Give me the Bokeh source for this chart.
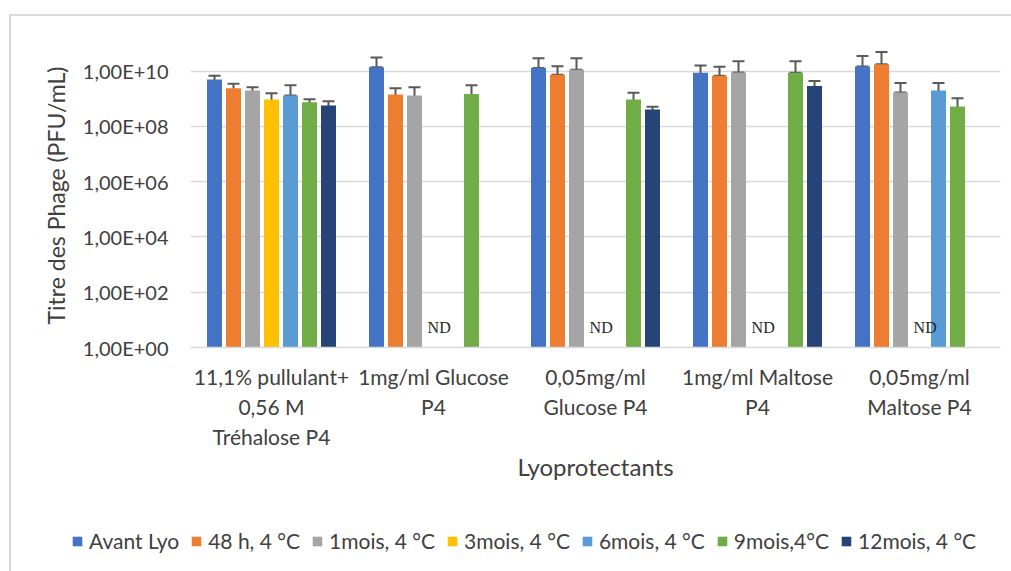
from bokeh.plotting import figure
from bokeh.models import (ColumnDataSource, FactorRange, Whisker, TeeHead, Legend,
                          LegendItem, CustomJSTickFormatter, FixedTicker)
from bokeh.transform import dodge
from bokeh.core.properties import value
from bokeh.embed import file_html
from bokeh.resources import INLINE

# ---------------- data ----------------
groups = ["11,1% pullulant+\n0,56 M\nTréhalose P4", "1mg/ml Glucose\nP4",
          "0,05mg/ml\nGlucose P4", "1mg/ml Maltose\nP4", "0,05mg/ml\nMaltose P4"]
series_names = ["Avant Lyo", "48 h, 4 °C", "1mois, 4 °C", "3mois, 4 °C",
                "6mois, 4 °C", "9mois,4°C", "12mois, 4 °C"]
colors = ["#4472C4", "#ED7D31", "#A5A5A5", "#FFC000", "#5B9BD5", "#70AD47", "#264478"]

avant_vals = [5.0e9, 1.39e10, 1.29e10, 8.7e9, 1.48e10]
avant_low = [3.2e9, 1.39e10, 1.29e10, 2.5e9, 1.48e10]
avant_high = [6.8e9, 3.1e10, 2.95e10, 1.6e10, 3.5e10]

h48_vals = [2.4e9, 1.44e9, 7.4e9, 6.8e9, 1.78e10]
h48_low = [1.35e9, 4.8e8, 7.4e9, 6.8e9, 1.78e10]
h48_high = [3.5e9, 2.4e9, 1.5e10, 1.44e10, 4.9e10]

m1_vals = [2.0e9, 1.32e9, 1.12e10, 8.9e9, 1.7e9]
m1_low = [1.5e9, 4.7e7, 1.12e10, 8.9e9, 1.7e9]
m1_high = [2.63e9, 2.6e9, 2.95e10, 2.3e10, 3.7e9]

m3_vals = [9.4e8, None, None, None, None]
m3_low = [2.1e8, None, None, None, None]
m3_high = [1.6e9, None, None, None, None]

m6_vals = [1.32e9, None, None, None, 2.0e9]
m6_low = [1.32e9, None, None, None, 4.8e8]
m6_high = [3.1e9, None, None, None, 3.7e9]

m9_vals = [7.5e8, 1.5e9, 9.4e8, 8.7e9, 5.2e8]
m9_low = [5.9e8, 1.6e7, 2.9e8, 8.7e9, 3.9e7]
m9_high = [9.7e8, 3.1e9, 1.65e9, 2.3e10, 1.05e9]

m12_vals = [5.7e8, None, 4.1e8, 2.9e9, None]
m12_low = [3.7e8, None, 3.5e8, 1.55e9, None]
m12_high = [8.1e8, None, 5.1e8, 4.4e9, None]

nd_groups = [groups[1], groups[2], groups[3], groups[4]]
nd_text = ["ND", "ND", "ND", "ND"]

y_ticks = [1e0, 1e2, 1e4, 1e6, 1e8, 1e10]

all_series = [
    (avant_vals, avant_low, avant_high),
    (h48_vals, h48_low, h48_high),
    (m1_vals, m1_low, m1_high),
    (m3_vals, m3_low, m3_high),
    (m6_vals, m6_low, m6_high),
    (m9_vals, m9_low, m9_high),
    (m12_vals, m12_low, m12_high),
]

# ---------------- main figure ----------------
TXT = "#404040"
FONT = "Lato"
BORDER = "#d9d9d9"

p = figure(x_range=FactorRange(factors=groups), y_axis_type="log", y_range=(1, 1e11),
           width=1011, height=515, output_backend="svg", toolbar_location=None,
           min_border_left=190, min_border_right=11, min_border_top=43, min_border_bottom=168)
p.border_fill_alpha = 0
p.background_fill_color = "white"
p.outline_line_color = None
p.styles = {
    "background": f"linear-gradient({BORDER},{BORDER}) 9px 14px / 2px 600px no-repeat, "
                  f"linear-gradient({BORDER},{BORDER}) 9px 14px / 1010px 2px no-repeat, white"
}

pitch = 19.0 / 162.0
bar_w = 15.0 / 162.0

for i, (vals, lows, highs) in enumerate(all_series):
    xs, ys, lo, hi = [], [], [], []
    for g, v, l, h in zip(groups, vals, lows, highs):
        if v is None:
            continue
        xs.append(g); ys.append(v); lo.append(l); hi.append(h)
    src = ColumnDataSource(dict(x=xs, top=ys, lower=lo, upper=hi))
    off = (i - 3) * pitch
    p.vbar(x=dodge("x", off, range=p.x_range), top="top", bottom=1, width=bar_w,
           source=src, fill_color=colors[i], line_color=None)
    w = Whisker(base=dodge("x", off, range=p.x_range), lower="lower", upper="upper",
                source=src, line_color="#595959", line_width=2,
                upper_head=TeeHead(size=12, line_color="#595959", line_width=2),
                lower_head=TeeHead(size=12, line_color="#595959", line_width=2))
    p.add_layout(w)

nd_src = ColumnDataSource(dict(x=nd_groups, t=nd_text, y=[5.2] * len(nd_groups)))
p.text(x=dodge("x", 0.035, range=p.x_range), y="y", text="t", source=nd_src,
       text_font=value("Liberation Serif"), text_font_size="16px", text_color="#262626",
       text_align="center", text_baseline="middle")

# axes
p.yaxis.ticker = FixedTicker(ticks=y_ticks)
p.yaxis.formatter = CustomJSTickFormatter(code="""
const e = Math.round(Math.log10(tick));
return "1,00E+" + (e < 10 ? "0" : "") + e;
""")
p.yaxis.axis_line_color = None
p.yaxis.major_tick_line_color = None
p.yaxis.minor_tick_line_color = None
p.yaxis.major_tick_out = 0
p.yaxis.minor_tick_out = 0
p.yaxis.major_label_standoff = 22
p.yaxis.major_label_text_font = FONT
p.yaxis.major_label_text_font_size = "20px"
p.yaxis.major_label_text_color = TXT
p.yaxis.axis_label = "Titre des Phage (PFU/mL)"
p.yaxis.axis_label_text_font = FONT
p.yaxis.axis_label_text_font_size = "23px"
p.yaxis.axis_label_text_font_style = "normal"
p.yaxis.axis_label_text_color = TXT
p.yaxis.axis_label_standoff = 10

p.xaxis.axis_line_color = BORDER
p.xaxis.axis_line_width = 1.5
p.xaxis.major_tick_line_color = None
p.xaxis.major_tick_out = 0
p.xaxis.major_tick_in = 0
p.xaxis.major_label_standoff = 16
p.xaxis.major_label_text_font = FONT
p.xaxis.major_label_text_font_size = "21px"
p.xaxis.major_label_text_color = TXT
p.xaxis.major_label_text_line_height = 1.2
p.xaxis.axis_label = "Lyoprotectants"
p.xaxis.axis_label_text_font = FONT
p.xaxis.axis_label_text_font_size = "24px"
p.xaxis.axis_label_text_font_style = "normal"
p.xaxis.axis_label_text_color = TXT
p.xaxis.axis_label_standoff = 0

p.xgrid.grid_line_color = None
p.ygrid.grid_line_color = BORDER
p.ygrid.grid_line_width = 1.5

# ---------------- legend strip (separate root, full-width frame) ----------------
lg = figure(width=1011, height=56, output_backend="svg", toolbar_location=None,
            x_range=(0, 1), y_range=(0, 1), min_border=0,
            x_axis_location=None, y_axis_location=None)
lg.grid.grid_line_color = None
lg.outline_line_color = None
lg.border_fill_alpha = 0
lg.background_fill_alpha = 0
lg.styles = {
    "background": f"linear-gradient({BORDER},{BORDER}) 9px 0px / 2px 100px no-repeat, white"
}
items = []
for name, c in zip(series_names, colors):
    r = lg.vbar(x=[-5], top=[-5], bottom=[-6], width=0.1, fill_color=c, line_color=None)
    items.append(LegendItem(label=name, renderers=[r]))
legend = Legend(items=items, orientation="horizontal", location=(71, 18),
                padding=0, margin=0, spacing=11, glyph_width=12, glyph_height=12,
                label_standoff=6, label_text_font=FONT, label_text_font_size="21px",
                label_text_color=TXT, border_line_alpha=0, background_fill_alpha=0)
lg.add_layout(legend)

open("out.html", "w").write(file_html([p, lg], INLINE))
